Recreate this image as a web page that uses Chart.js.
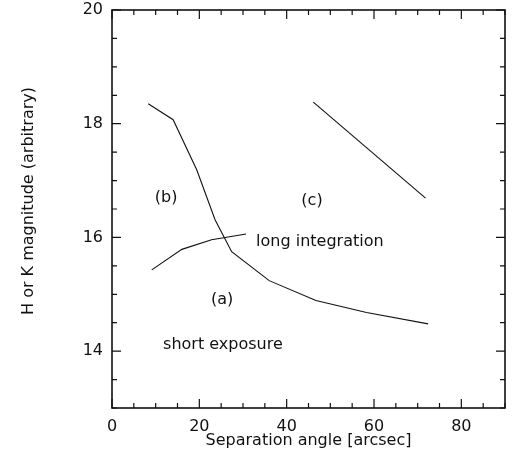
<!DOCTYPE html>
<html>
<head>
    <title>Magnitude vs separation</title>
    <script src="https://cdn.jsdelivr.net/npm/chart.js"></script>
    <style>
        body { margin: 0; background: #fff; }
        #wrap { width: 512px; height: 459px; }
    </style>
</head>
<body>
    <div id="wrap"><canvas id="myChart"></canvas></div>
    <script>
        // curve (a): long integration limit
        var longX = [9.1, 16.0, 22.8, 30.7];
        var longY = [15.43, 15.79, 15.96, 16.06];
        // curve (b): short exposure limit
        var shortX = [8.3, 14.0, 19.4, 23.6, 27.4, 36.0, 46.7, 58.3, 72.4];
        var shortY = [18.35, 18.07, 17.19, 16.31, 15.75, 15.24, 14.89, 14.68, 14.48];
        // curve (c)
        var cX = [46.1, 71.8];
        var cY = [18.38, 16.69];

        var xLabels = [0, 20, 40, 60, 80];
        var yLabels = [14, 16, 18, 20];
        var xMinor = 5, yMinor = 0.5;
        var yTitle = 'H or K magnitude (arbitrary)';

        // text written inside the plot: [text, x, y, align, baseline]
        var notes = [
            ['(b)', 12.4, 16.70, 'center', 'middle'],
            ['(c)', 45.8, 16.65, 'center', 'middle'],
            ['(a)', 25.2, 14.91, 'center', 'middle'],
            ['long integration', 33.0, 15.85, 'left', 'alphabetic'],
            ['short exposure', 11.7, 14.04, 'left', 'alphabetic']
        ];

        function pts(xs, ys) {
            return xs.map(function (x, i) { return {x: x, y: ys[i]}; });
        }

        var font = 'DejaVu Sans';

        // frame, inward ticks on all four sides, the notes and the y title
        var framePlugin = {
            id: 'frame',
            afterDatasetsDraw: function (chart) {
                var c = chart.ctx, a = chart.chartArea;
                var xs = chart.scales.x, ys = chart.scales.y;
                c.save();
                c.strokeStyle = '#111';
                c.lineWidth = 1.6;
                c.strokeRect(a.left, a.top, a.right - a.left, a.bottom - a.top);
                c.lineWidth = 1.2;
                c.beginPath();
                for (var v = xs.min; v <= xs.max + 1e-6; v += xMinor) {
                    var px = xs.getPixelForValue(v);
                    var len = (v % 20 === 0) ? 9 : 5;
                    c.moveTo(px, a.bottom); c.lineTo(px, a.bottom - len);
                    c.moveTo(px, a.top); c.lineTo(px, a.top + len);
                }
                for (var w = ys.min; w <= ys.max + 1e-6; w += yMinor) {
                    var py = ys.getPixelForValue(w);
                    var l2 = (w % 2 === 0) ? 9 : 5;
                    c.moveTo(a.left, py); c.lineTo(a.left + l2, py);
                    c.moveTo(a.right, py); c.lineTo(a.right - l2, py);
                }
                c.stroke();

                c.fillStyle = '#111';
                c.font = '16px "' + font + '"';
                notes.forEach(function (n) {
                    c.textAlign = n[3];
                    c.textBaseline = n[4];
                    c.fillText(n[0], xs.getPixelForValue(n[1]), ys.getPixelForValue(n[2]));
                });

                // y title sits a little above the middle of the axis
                c.translate(29, (a.top + a.bottom) / 2 - 8);
                c.rotate(-Math.PI / 2);
                c.textAlign = 'center';
                c.textBaseline = 'middle';
                c.fillText(yTitle, 0, 0);
                c.restore();
            }
        };

        var lineStyle = {showLine: true, fill: false, borderColor: '#111', borderWidth: 1.1,
                         pointRadius: 0, tension: 0};

        var ctx = document.getElementById('myChart').getContext('2d');
        var myChart = new Chart(ctx, {
            type: 'scatter',
            data: {
                datasets: [
                    Object.assign({label: 'long integration', data: pts(longX, longY)}, lineStyle),
                    Object.assign({label: 'short exposure', data: pts(shortX, shortY)}, lineStyle),
                    Object.assign({label: '(c)', data: pts(cX, cY)}, lineStyle)
                ]
            },
            options: {
                responsive: true,
                maintainAspectRatio: false,
                animation: false,
                layout: {padding: {top: 10, right: 7, left: 0, bottom: 0}},
                plugins: {legend: {display: false}, tooltip: {enabled: false}},
                scales: {
                    x: {
                        type: 'linear', min: 0, max: 90,
                        afterBuildTicks: function (s) { s.ticks = xLabels.map(function (v) { return {value: v}; }); },
                        afterFit: function (s) { s.height = 51; s.paddingLeft = 0; s.paddingRight = 0; },
                        grid: {display: false, drawTicks: false},
                        border: {display: false},
                        ticks: {color: '#111', padding: 9, maxRotation: 0, font: {family: font, size: 16}},
                        title: {display: true, text: 'Separation angle [arcsec]', color: '#111',
                                padding: {top: 0, bottom: 9}, font: {family: font, size: 16}}
                    },
                    y: {
                        type: 'linear', min: 13, max: 20,
                        afterBuildTicks: function (s) { s.ticks = yLabels.map(function (v) { return {value: v}; }); },
                        afterFit: function (s) { s.width = 112; s.paddingTop = 0; s.paddingBottom = 0; },
                        grid: {display: false, drawTicks: false},
                        border: {display: false},
                        ticks: {color: '#111', padding: 9, font: {family: font, size: 16}}
                    }
                }
            },
            plugins: [framePlugin]
        });
    </script>
</body>
</html>
